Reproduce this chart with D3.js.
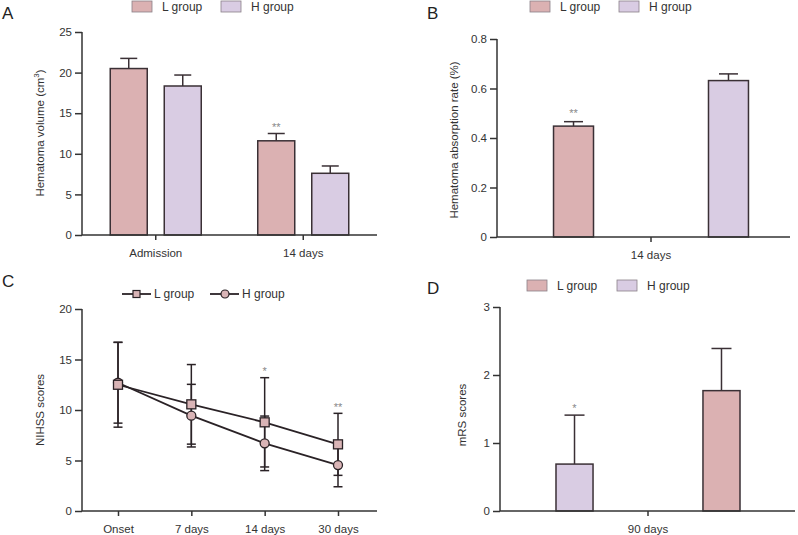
<!DOCTYPE html>
<html><head><meta charset="utf-8">
<script src="https://cdn.jsdelivr.net/npm/d3@7"></script>
<style>
body{margin:0;background:#fff;}
svg{display:block;font-family:"Liberation Sans",Arial,sans-serif;}
.tick text{font-size:11.5px;fill:#333;}
</style></head>
<body>
<svg id="c" width="798" height="535"></svg>
<script>
// ---- data ----
const groups = ["L group", "H group"];
const aCategories = ["Admission", "14 days"];
const aL = [20.5, 11.6];
const aLerr = [1.25, 0.9];
const aH = [18.35, 7.6];
const aHerr = [1.35, 0.9];
const aLstars = ["", "**"];
const aTicks = [0, 5, 10, 15, 20, 25];

const bCategories = ["14 days"];
const bValues = [0.448, 0.632];   // L, H
const bErr = [0.018, 0.027];
const bStars = ["**", ""];
const bTicks = [0, 0.2, 0.4, 0.6, 0.8];

const cCategories = ["Onset", "7 days", "14 days", "30 days"];
const cL = [12.5, 10.56, 8.78, 6.6];
const cLsd = [4.2, 3.94, 4.42, 3.07];
const cH = [12.7, 9.44, 6.7, 4.55];
const cHsd = [4.0, 3.1, 2.7, 2.15];
const cStars = ["", "", "*", "**"];
const cTicks = [0, 5, 10, 15, 20];

const dCategories = ["90 days"];
const dBarGroups = ["H group", "L group"]; // order of bars as drawn
const dValues = [0.69, 1.77];
const dErr = [0.72, 0.62];
const dStars = ["*", ""];
const dTicks = [0, 1, 2, 3];

// ---- styles ----
const PINK = "#dbb1b2", LAV = "#d9cce3", DARK = "#3a3035", AX = "#333";
const color = {"L group": PINK, "H group": LAV};
const svg = d3.select("#c");

function yAxis(g, y, x0, ticks, fmt) {
  const ax = g.append("g").attr("transform", `translate(${x0},0)`)
    .call(d3.axisLeft(y).tickValues(ticks).tickSize(7).tickPadding(3).tickFormat(fmt || (d => d)));
  ax.selectAll("path,line").attr("stroke", AX).attr("stroke-width", 1.5);
  ax.select(".domain").attr("d", `M0,${y(ticks[ticks.length-1])}V${y(0)}`);
}
function xAxis(g, x, y0, x1, x2) {
  const ax = g.append("g").attr("transform", `translate(0,${y0})`)
    .call(d3.axisBottom(x).tickSize(5).tickPadding(9));
  ax.select(".domain").remove();
  ax.selectAll("line").attr("stroke", AX).attr("stroke-width", 1.5);
  g.append("line").attr("x1", x1).attr("x2", x2).attr("y1", y0).attr("y2", y0)
    .attr("stroke", AX).attr("stroke-width", 1.5);
}
function panelLabel(t, x, y) {
  svg.append("text").attr("x", x).attr("y", y).text(t)
    .attr("font-size", 17).attr("fill", "#222");
}
function yLabel(g, x, y, txt) {
  const t = g.append("text").attr("transform", `translate(${x},${y}) rotate(-90)`)
    .attr("text-anchor", "middle").attr("font-size", 11.5).attr("fill", "#333");
  return t.text(txt);
}
function swatchLegend(g, items, y) {
  items.forEach(it => {
    g.append("rect").attr("x", it.x).attr("y", y).attr("width", 20).attr("height", 11)
      .attr("fill", color[it.name]).attr("stroke", "#8a8088").attr("stroke-width", 0.8);
    g.append("text").attr("x", it.x + 30).attr("y", y + 10).text(it.name)
      .attr("font-size", 12).attr("fill", "#333");
  });
}
function errBar(g, cx, yTop, yBase, capW) {
  g.append("line").attr("x1", cx).attr("x2", cx).attr("y1", yBase).attr("y2", yTop)
    .attr("stroke", DARK).attr("stroke-width", 1.5);
  g.append("line").attr("x1", cx - capW/2).attr("x2", cx + capW/2).attr("y1", yTop).attr("y2", yTop)
    .attr("stroke", DARK).attr("stroke-width", 1.5);
}
function star(g, cx, yTop, s) {
  if (!s) return;
  g.append("text").attr("x", cx).attr("y", yTop - 4).attr("text-anchor", "middle")
    .attr("font-size", 11).attr("fill", "#888").text(s);
}

// ---- Panel A ----
{
  const g = svg.append("g");
  const y = d3.scaleLinear().domain([0, 25]).range([235, 32]);
  const x = d3.scaleBand().domain(aCategories).range([82, 377]);
  const xi = d3.scaleBand().domain(groups).range([0, x.bandwidth()]).paddingInner(0.315).paddingOuter(0.523);
  const series = {"L group": [aL, aLerr, aLstars], "H group": [aH, aHerr, ["", ""]]};
  aCategories.forEach((c, i) => {
    groups.forEach(gr => {
      const [v, e, s] = series[gr];
      const bx = x(c) + xi(gr), cx = bx + xi.bandwidth()/2;
      errBar(g, cx, y(v[i] + e[i]), y(v[i]), 17);
      g.append("rect").attr("x", bx).attr("y", y(v[i])).attr("width", xi.bandwidth())
        .attr("height", y(0) - y(v[i])).attr("fill", color[gr]).attr("stroke", DARK).attr("stroke-width", 1.5);
      star(g, cx, y(v[i] + e[i]) + 1, s[i]);
    });
  });
  yAxis(g, y, 82, aTicks);
  xAxis(g, x, 235, 82, 377);
  const t = yLabel(g, 44, 133, "");
  t.append("tspan").text("Hematoma volume (cm");
  t.append("tspan").text("3").attr("font-size", 8).attr("dy", -5);
  t.append("tspan").text(")").attr("dy", 5);
  swatchLegend(g, [{name: "L group", x: 132}, {name: "H group", x: 221}], 1);
  panelLabel("A", 2, 19);
}

// ---- Panel B ----
{
  const g = svg.append("g");
  const y = d3.scaleLinear().domain([0, 0.8]).range([237, 39]);
  const x = d3.scaleBand().domain(bCategories).range([512, 790]);
  const xi = d3.scaleBand().domain(groups).range([0, x.bandwidth()]).paddingInner(0.742).paddingOuter(0.268);
  groups.forEach((gr, j) => {
    const bx = x(bCategories[0]) + xi(gr), cx = bx + xi.bandwidth()/2;
    errBar(g, cx, y(bValues[j] + bErr[j]), y(bValues[j]), 19);
    g.append("rect").attr("x", bx).attr("y", y(bValues[j])).attr("width", xi.bandwidth())
      .attr("height", y(0) - y(bValues[j])).attr("fill", color[gr]).attr("stroke", DARK).attr("stroke-width", 1.5);
    star(g, cx, y(bValues[j] + bErr[j]) - 1, bStars[j]);
  });
  yAxis(g, y, 497, bTicks, d => d === 0 ? "0" : d3.format(".1f")(d));
  xAxis(g, x, 237, 497, 790);
  yLabel(g, 458, 140, "Hematoma absorption rate (%)");
  swatchLegend(g, [{name: "L group", x: 530}, {name: "H group", x: 619}], 1);
  panelLabel("B", 427, 19);
}

// ---- Panel C ----
{
  const g = svg.append("g");
  const y = d3.scaleLinear().domain([0, 20]).range([511, 309]);
  const x = d3.scalePoint().domain(cCategories).range([118, 338]);
  const ser = [
    {name: "H group", v: cH, sd: cHsd, shape: "circle"},
    {name: "L group", v: cL, sd: cLsd, shape: "square"}
  ];
  // error bars
  ser.forEach(s => {
    cCategories.forEach((c, i) => {
      const cx = x(c);
      const y1 = y(s.v[i] + s.sd[i]), y2 = y(s.v[i] - s.sd[i]);
      g.append("line").attr("x1", cx).attr("x2", cx).attr("y1", y1).attr("y2", y2)
        .attr("stroke", "#2a2226").attr("stroke-width", 1.5);
      [y1, y2].forEach(yy => g.append("line").attr("x1", cx - 4.5).attr("x2", cx + 4.5)
        .attr("y1", yy).attr("y2", yy).attr("stroke", "#2a2226").attr("stroke-width", 1.5));
    });
  });
  const line = d3.line().x((d, i) => x(cCategories[i])).y(d => y(d));
  ser.forEach(s => {
    g.append("path").datum(s.v).attr("d", line).attr("fill", "none")
      .attr("stroke", "#2a2226").attr("stroke-width", 1.8);
  });
  ser.forEach(s => {
    cCategories.forEach((c, i) => {
      if (s.shape === "circle") {
        g.append("circle").attr("cx", x(c)).attr("cy", y(s.v[i])).attr("r", 4.5)
          .attr("fill", "#d9b4b6").attr("stroke", "#2a2226").attr("stroke-width", 1.3);
      } else {
        g.append("rect").attr("x", x(c) - 4.5).attr("y", y(s.v[i]) - 4.5).attr("width", 9).attr("height", 9)
          .attr("fill", "#d9b4b6").attr("stroke", "#2a2226").attr("stroke-width", 1.3);
      }
    });
  });
  cCategories.forEach((c, i) => star(g, x(c), y(cL[i] + cLsd[i]) + 1.5, cStars[i]));
  yAxis(g, y, 82, cTicks);
  xAxis(g, x, 511, 82, 377);
  yLabel(g, 44, 410, "NIHSS scores");
  // legend
  const ly = 294;
  [{name: "L group", x: 122, shape: "square"}, {name: "H group", x: 210, shape: "circle"}].forEach(it => {
    g.append("line").attr("x1", it.x).attr("x2", it.x + 29).attr("y1", ly).attr("y2", ly)
      .attr("stroke", "#2a2226").attr("stroke-width", 1.8);
    if (it.shape === "square") g.append("rect").attr("x", it.x + 11).attr("y", ly - 3.5).attr("width", 7).attr("height", 7)
      .attr("fill", "#d9b4b6").attr("stroke", "#2a2226").attr("stroke-width", 1.2);
    else g.append("circle").attr("cx", it.x + 15).attr("cy", ly).attr("r", 4)
      .attr("fill", "#d9b4b6").attr("stroke", "#2a2226").attr("stroke-width", 1.2);
    g.append("text").attr("x", it.x + 32).attr("y", ly + 4).text(it.name)
      .attr("font-size", 12).attr("fill", "#333");
  });
  panelLabel("C", 2, 287);
}

// ---- Panel D ----
{
  const g = svg.append("g");
  const y = d3.scaleLinear().domain([0, 3]).range([511, 307]);
  const x = d3.scaleBand().domain(dCategories).range([500, 796]);
  const xi = d3.scaleBand().domain(dBarGroups).range([0, x.bandwidth()]).paddingInner(0.748).paddingOuter(0.381);
  dBarGroups.forEach((gr, j) => {
    const bx = x(dCategories[0]) + xi(gr), cx = bx + xi.bandwidth()/2;
    errBar(g, cx, y(dValues[j] + dErr[j]), y(dValues[j]), 20);
    g.append("rect").attr("x", bx).attr("y", y(dValues[j])).attr("width", xi.bandwidth())
      .attr("height", y(0) - y(dValues[j])).attr("fill", color[gr]).attr("stroke", DARK).attr("stroke-width", 1.5);
    star(g, cx, y(dValues[j] + dErr[j]) + 1, dStars[j]);
  });
  yAxis(g, y, 500, dTicks);
  xAxis(g, x, 511, 500, 795);
  yLabel(g, 466, 415, "mRS scores");
  swatchLegend(g, [{name: "L group", x: 527}, {name: "H group", x: 617}], 280);
  panelLabel("D", 427, 294);
}
</script>
</body></html>
